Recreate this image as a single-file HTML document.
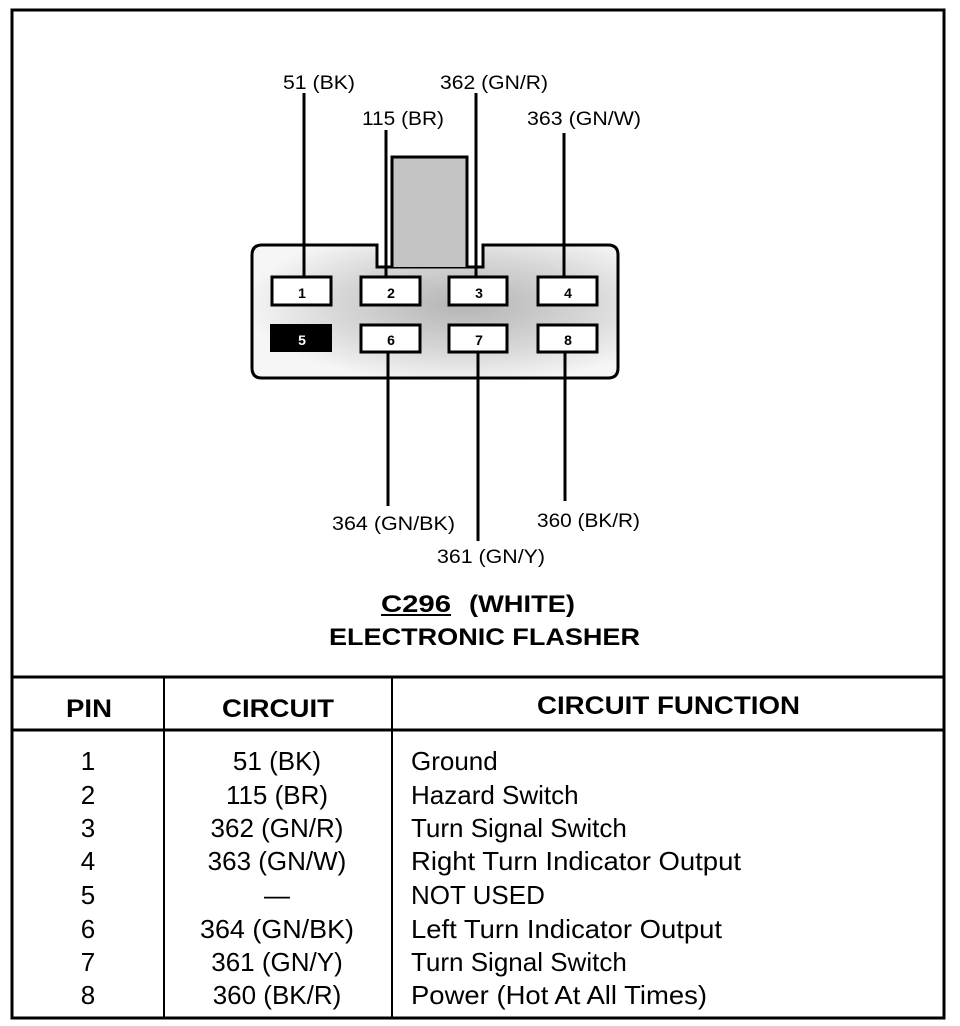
<!DOCTYPE html>
<html><head><meta charset="utf-8"><style>
html,body{margin:0;padding:0;background:#fff;}
svg{display:block;}
text{font-family:"Liberation Sans",sans-serif;fill:#000;}
.l{font-size:19px;}
.t{font-size:26px;}
.h{font-size:25px;font-weight:bold;}
</style></head><body>
<svg width="960" height="1026" viewBox="0 0 960 1026" xmlns="http://www.w3.org/2000/svg">
<defs>
<radialGradient id="g" cx="0.58" cy="0.45" r="0.6">
<stop offset="0" stop-color="#b4b4b4"/><stop offset="0.6" stop-color="#d8d8d8"/><stop offset="1" stop-color="#f6f6f6"/>
</radialGradient>
</defs>
<rect x="12" y="10" width="932" height="1008" fill="none" stroke="#000" stroke-width="3"/>
<line x1="12" y1="677" x2="944" y2="677" stroke="#000" stroke-width="3"/>
<line x1="12" y1="730" x2="944" y2="730" stroke="#000" stroke-width="3"/>
<line x1="164" y1="677" x2="164" y2="1018" stroke="#000" stroke-width="2"/>
<line x1="392" y1="677" x2="392" y2="1018" stroke="#000" stroke-width="2"/>
<path d="M262,245 H377 V267 H483 V245 H608 Q618,245 618,255 V368 Q618,378 608,378 H262 Q252,378 252,368 V255 Q252,245 262,245 Z" fill="url(#g)" stroke="#000" stroke-width="3"/>
<path d="M392,267 V157 H467 V267" fill="#c4c4c4" stroke="#000" stroke-width="3"/>
<g stroke="#000" stroke-width="3">
<line x1="304" y1="93" x2="304" y2="277"/>
<line x1="386" y1="130" x2="386" y2="277"/>
<line x1="476" y1="93" x2="476" y2="277"/>
<line x1="564" y1="133" x2="564" y2="277"/>
<line x1="388" y1="352" x2="388" y2="506"/>
<line x1="478" y1="352" x2="478" y2="541"/>
<line x1="565" y1="352" x2="565" y2="501"/>
</g>
<g fill="#fff" stroke="#000" stroke-width="3">
<rect x="272" y="277" width="59" height="28"/>
<rect x="361" y="277" width="59" height="28"/>
<rect x="449" y="277" width="58" height="28"/>
<rect x="538" y="277" width="59" height="28"/>
<rect x="361" y="325" width="59" height="27"/>
<rect x="449" y="325" width="58" height="27"/>
<rect x="538" y="325" width="59" height="27"/>
</g>
<rect x="270" y="324" width="62" height="28" fill="#000"/>
<g font-size="14" font-weight="bold" text-anchor="middle">
<text x="302" y="298">1</text><text x="391" y="298">2</text><text x="479" y="298">3</text><text x="568" y="298">4</text>
<text x="302" y="345" style="fill:#fff">5</text><text x="391" y="345">6</text><text x="479" y="345">7</text><text x="568" y="345">8</text>
</g>
<g lengthAdjust="spacingAndGlyphs">
<text class="l" x="283" y="89" textLength="72" lengthAdjust="spacingAndGlyphs">51 (BK)</text>
<text class="l" x="440" y="89" textLength="108" lengthAdjust="spacingAndGlyphs">362 (GN/R)</text>
<text class="l" x="362" y="125" textLength="82" lengthAdjust="spacingAndGlyphs">115 (BR)</text>
<text class="l" x="527" y="125" textLength="114" lengthAdjust="spacingAndGlyphs">363 (GN/W)</text>
<text class="l" x="332" y="530" textLength="123" lengthAdjust="spacingAndGlyphs">364 (GN/BK)</text>
<text class="l" x="537" y="527" textLength="103" lengthAdjust="spacingAndGlyphs">360 (BK/R)</text>
<text class="l" x="437" y="563" textLength="108" lengthAdjust="spacingAndGlyphs">361 (GN/Y)</text>
</g>
<text x="381" y="612" font-size="24" font-weight="bold" textLength="70" lengthAdjust="spacingAndGlyphs">C296</text>
<line x1="381" y1="615" x2="451" y2="615" stroke="#000" stroke-width="2"/>
<text x="469" y="612" font-size="24" font-weight="bold" textLength="106" lengthAdjust="spacingAndGlyphs">(WHITE)</text>
<text x="329" y="645" font-size="24" font-weight="bold" textLength="311" lengthAdjust="spacingAndGlyphs">ELECTRONIC FLASHER</text>
<text class="h" x="66" y="717" textLength="46" lengthAdjust="spacingAndGlyphs">PIN</text>
<text class="h" x="222" y="717" textLength="112" lengthAdjust="spacingAndGlyphs">CIRCUIT</text>
<text class="h" x="537" y="714" textLength="263" lengthAdjust="spacingAndGlyphs">CIRCUIT FUNCTION</text>
<g>
<text class="t" x="88" y="770" text-anchor="middle">1</text>
<text class="t" x="88" y="804" text-anchor="middle">2</text>
<text class="t" x="88" y="837" text-anchor="middle">3</text>
<text class="t" x="88" y="870" text-anchor="middle">4</text>
<text class="t" x="88" y="904" text-anchor="middle">5</text>
<text class="t" x="88" y="938" text-anchor="middle">6</text>
<text class="t" x="88" y="971" text-anchor="middle">7</text>
<text class="t" x="88" y="1004" text-anchor="middle">8</text>
<text class="t" x="277" y="770" text-anchor="middle">51 (BK)</text>
<text class="t" x="277" y="804" text-anchor="middle">115 (BR)</text>
<text class="t" x="277" y="837" text-anchor="middle">362 (GN/R)</text>
<text class="t" x="277" y="870" text-anchor="middle">363 (GN/W)</text>
<text class="t" x="277" y="904" text-anchor="middle">—</text>
<text class="t" x="277" y="938" text-anchor="middle" textLength="154" lengthAdjust="spacingAndGlyphs">364 (GN/BK)</text>
<text class="t" x="277" y="971" text-anchor="middle">361 (GN/Y)</text>
<text class="t" x="277" y="1004" text-anchor="middle">360 (BK/R)</text>
<text class="t" x="411" y="770">Ground</text>
<text class="t" x="411" y="804">Hazard Switch</text>
<text class="t" x="411" y="837">Turn Signal Switch</text>
<text class="t" x="411" y="870" textLength="330" lengthAdjust="spacingAndGlyphs">Right Turn Indicator Output</text>
<text class="t" x="411" y="904">NOT USED</text>
<text class="t" x="411" y="938" textLength="311" lengthAdjust="spacingAndGlyphs">Left Turn Indicator Output</text>
<text class="t" x="411" y="971">Turn Signal Switch</text>
<text class="t" x="411" y="1004" textLength="296" lengthAdjust="spacingAndGlyphs">Power (Hot At All Times)</text>
</g>
</svg>
</body></html>
